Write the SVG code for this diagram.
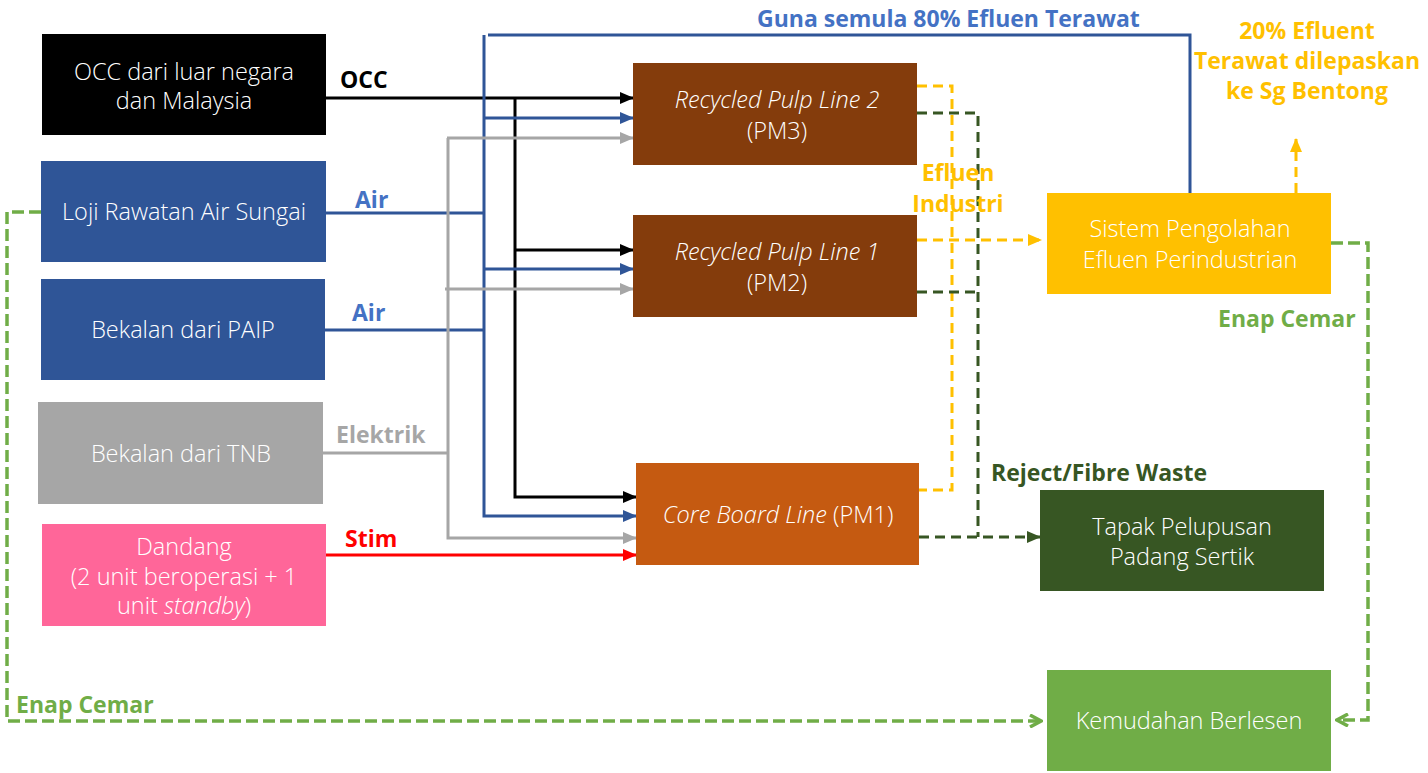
<svg xmlns="http://www.w3.org/2000/svg" width="1428" height="773" viewBox="0 0 1428 773">
<style>
.box text{font-family:"Open Sans","Noto Sans",sans-serif;font-size:23.5px;font-weight:300;fill:#fff;text-anchor:middle}
.lbl{font-family:"Open Sans","Noto Sans",sans-serif;font-size:23px;font-weight:bold}
.c line,.c path{fill:none;stroke-width:3}
.k{stroke:#000}
.b{stroke:#2F5597}
.g{stroke:#A6A6A6}
.r{stroke:#FF0000}
.y{stroke:#FFC000;stroke-dasharray:10 6}
.dg{stroke:#375623;stroke-dasharray:10 6}
.c .lg{stroke:#70AD47;stroke-width:3.5;stroke-dasharray:12 5}
</style>
<defs>
<marker id="ak" markerUnits="userSpaceOnUse" markerWidth="14" markerHeight="12" refX="13" refY="6" orient="auto"><path d="M0,0 L14,6 L0,12 Z" fill="#000"/></marker>
<marker id="ab" markerUnits="userSpaceOnUse" markerWidth="14" markerHeight="12" refX="13" refY="6" orient="auto"><path d="M0,0 L14,6 L0,12 Z" fill="#2F5597"/></marker>
<marker id="ag" markerUnits="userSpaceOnUse" markerWidth="14" markerHeight="12" refX="13" refY="6" orient="auto"><path d="M0,0 L14,6 L0,12 Z" fill="#A6A6A6"/></marker>
<marker id="ar" markerUnits="userSpaceOnUse" markerWidth="14" markerHeight="12" refX="13" refY="6" orient="auto"><path d="M0,0 L14,6 L0,12 Z" fill="#FF0000"/></marker>
<marker id="ay" markerUnits="userSpaceOnUse" markerWidth="14" markerHeight="12" refX="13" refY="6" orient="auto"><path d="M0,0 L14,6 L0,12 Z" fill="#FFC000"/></marker>
<marker id="adg" markerUnits="userSpaceOnUse" markerWidth="14" markerHeight="12" refX="13" refY="6" orient="auto"><path d="M0,0 L14,6 L0,12 Z" fill="#375623"/></marker>
<marker id="alg" markerUnits="userSpaceOnUse" markerWidth="14" markerHeight="14" refX="12" refY="7" orient="auto"><path d="M1,1 L12,7 L1,13" fill="none" stroke="#70AD47" stroke-width="3.5"/></marker>
</defs>
<rect width="1428" height="773" fill="#fff"/>

<g class="c" id="connectors">
<line class="k" x1="326" y1="98" x2="633" y2="98" marker-end="url(#ak)"/>
<path class="k" d="M515,98 V497 H636" marker-end="url(#ak)"/>
<line class="k" x1="515" y1="250" x2="633" y2="250" marker-end="url(#ak)"/>
<line class="b" x1="326" y1="213" x2="484" y2="213"/>
<line class="b" x1="325" y1="330" x2="484" y2="330"/>
<path class="b" d="M484,35 V516 H636" marker-end="url(#ab)"/>
<line class="b" x1="484" y1="118" x2="633" y2="118" marker-end="url(#ab)"/>
<line class="b" x1="484" y1="269" x2="633" y2="269" marker-end="url(#ab)"/>
<path class="b" d="M488,35 H1190 V193"/>
<line class="g" x1="323" y1="453" x2="448" y2="453"/>
<path class="g" d="M448,138 V538 H636" marker-end="url(#ag)"/>
<line class="g" x1="447" y1="138" x2="633" y2="138" marker-end="url(#ag)"/>
<line class="g" x1="445" y1="289" x2="633" y2="289" marker-end="url(#ag)"/>
<line class="r" x1="326" y1="555" x2="636" y2="555" marker-end="url(#ar)"/>
<path class="y" d="M917,86 H952 V490 H919"/>
<line class="y" x1="917" y1="240" x2="1041" y2="240" marker-end="url(#ay)"/>
<line class="y" x1="1296" y1="193" x2="1296" y2="139" marker-end="url(#ay)"/>
<path class="dg" d="M917,113 H978 V537"/>
<line class="dg" x1="917" y1="292" x2="978" y2="292"/>
<line class="dg" x1="919" y1="537" x2="1040" y2="537" marker-end="url(#adg)"/>
<path class="lg" d="M1331,243 H1368 V720 H1337" marker-end="url(#alg)"/>
<path class="lg" d="M41,212 H7 V721 H1041" marker-end="url(#alg)"/>
</g>

<g class="box" id="occ"><rect x="42" y="34" width="284" height="101" fill="#000"/><text x="184" y="80">OCC dari luar negara</text><text x="184" y="109">dan Malaysia</text></g>
<g class="box" id="loji"><rect x="41" y="161" width="285" height="101" fill="#2F5597"/><text x="184" y="220">Loji Rawatan Air Sungai</text></g>
<g class="box" id="paip"><rect x="41" y="279" width="284" height="101" fill="#2F5597"/><text x="183" y="338">Bekalan dari PAIP</text></g>
<g class="box" id="tnb"><rect x="38" y="402" width="285" height="102" fill="#A6A6A6"/><text x="181" y="462">Bekalan dari TNB</text></g>
<g class="box" id="dandang"><rect x="42" y="524" width="284" height="102" fill="#FF6699"/><text x="184" y="555">Dandang</text><text x="184" y="585">(2 unit beroperasi + 1</text><text x="184" y="614">unit <tspan font-style="italic">standby</tspan>)</text></g>
<g class="box" id="line2"><rect x="633" y="63" width="284" height="102" fill="#843C0C"/><text x="777" y="108" font-style="italic">Recycled Pulp Line 2</text><text x="777" y="139">(PM3)</text></g>
<g class="box" id="line1"><rect x="633" y="215" width="284" height="102" fill="#843C0C"/><text x="777" y="260" font-style="italic">Recycled Pulp Line 1</text><text x="777" y="291">(PM2)</text></g>
<g class="box" id="coreboard"><rect x="636" y="463" width="283" height="102" fill="#C55A11"/><text x="778" y="523"><tspan font-style="italic">Core Board Line</tspan> (PM1)</text></g>
<g class="box" id="sistem"><rect x="1047" y="193" width="284" height="101" fill="#FFC000"/><text x="1190" y="237">Sistem Pengolahan</text><text x="1190" y="268">Efluen Perindustrian</text></g>
<g class="box" id="tapak"><rect x="1040" y="490" width="284" height="101" fill="#375623"/><text x="1182" y="535">Tapak Pelupusan</text><text x="1182" y="565">Padang Sertik</text></g>
<g class="box" id="kemudahan"><rect x="1047" y="670" width="284" height="101" fill="#70AD47"/><text x="1189" y="729">Kemudahan Berlesen</text></g>

<g id="labels">
<text class="lbl" x="340" y="88" fill="#000">OCC</text>
<text class="lbl" x="355" y="208" fill="#4472C4">Air</text>
<text class="lbl" x="352" y="321" fill="#4472C4">Air</text>
<text class="lbl" x="336" y="443" fill="#A6A6A6">Elektrik</text>
<text class="lbl" x="345" y="547" fill="#FF0000">Stim</text>
<text class="lbl" x="757" y="27" fill="#4472C4">Guna semula 80% Efluen Terawat</text>
<text class="lbl" x="1307" y="39" fill="#FFC000" text-anchor="middle">20% Efluent</text>
<text class="lbl" x="1307" y="69" fill="#FFC000" text-anchor="middle">Terawat dilepaskan</text>
<text class="lbl" x="1307" y="99" fill="#FFC000" text-anchor="middle">ke Sg Bentong</text>
<text class="lbl" x="958" y="181" fill="#FFC000" text-anchor="middle">Efluen</text>
<text class="lbl" x="958" y="212" fill="#FFC000" text-anchor="middle">Industri</text>
<text class="lbl" x="1218" y="327" fill="#70AD47">Enap Cemar</text>
<text class="lbl" x="991" y="481" fill="#375623">Reject/Fibre Waste</text>
<text class="lbl" x="16" y="713" fill="#70AD47">Enap Cemar</text>
</g>
</svg>
